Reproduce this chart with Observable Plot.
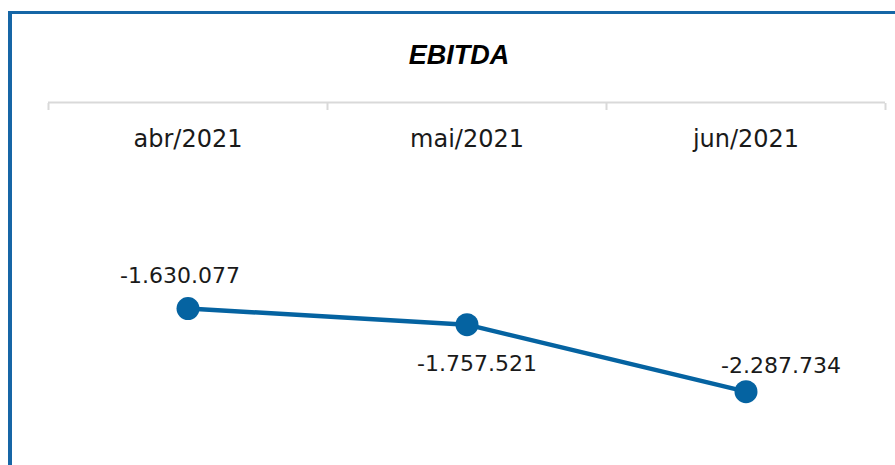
<!DOCTYPE html>
<html>
<head>
<meta charset="utf-8">
<script src="https://cdn.jsdelivr.net/npm/d3@7"></script>
<script src="https://cdn.jsdelivr.net/npm/@observablehq/plot@0.6"></script>
<style>
  html, body { margin: 0; padding: 0; background: #fff; overflow: hidden; }
  #wrap { position: relative; width: 895px; height: 465px; }
  #frame { position: absolute; left: 8px; top: 11px; width: 900px; height: 470px;
           border-left: 4px solid #1666a6; border-top: 3px solid #1666a6; box-sizing: border-box; pointer-events: none; }
  #title { position: absolute; left: 0; top: 0; width: 918px; height: 80px;
           text-align: center; font: italic bold 27px "Liberation Sans", Arial, sans-serif; line-height: 110px; color: #000; }
  #chart { position: absolute; left: 0; top: 80px; }
</style>
</head>
<body>
<div id="wrap">
  <div id="title">EBITDA</div>
  <div id="chart"></div>
  <div id="frame"></div>
</div>
<script>
const months = ["abr/2021", "mai/2021", "jun/2021"];
const ebitda = [-1630077, -1757521, -2287734];
const labels = ["-1.630.077", "-1.757.521", "-2.287.734"];

const data = months.map((m, i) => ({i, month: m, value: ebitda[i], label: labels[i]}));
const blue = "#0563a1";
const font = "'DejaVu Sans', sans-serif";

const chart = Plot.plot({
  width: 895,
  height: 385,
  marginTop: 22,
  marginBottom: 47,
  marginLeft: 48,
  marginRight: 10,
  style: {fontFamily: font, color: "#000", background: "transparent", overflow: "visible"},
  x: {type: "linear", domain: [-0.5, months.length - 0.5], axis: null},
  y: {domain: [-2500000, 0], axis: null},
  marks: [
    Plot.ruleY([0], {stroke: "#d9d9d9", strokeWidth: 2}),
    Plot.axisX({anchor: "top", ticks: d3.range(months.length + 1).map(k => k - 0.5), tickFormat: () => "",
                tickSize: 7, dy: 7, stroke: "#d9d9d9", strokeWidth: 2, label: null}),
    Plot.axisX({anchor: "top", ticks: d3.range(months.length), tickSize: 0, tickFormat: k => months[k],
                fontSize: 24, fill: "#1a1a1a", dy: 53, label: null}),
    Plot.line(data, {x: "i", y: "value", stroke: blue, strokeWidth: 4.5}),
    Plot.dot(data, {x: "i", y: "value", r: 11.5, fill: blue, stroke: null}),
    Plot.text(data.filter(d => d.i === 0), {x: "i", y: "value", text: "label", fontSize: 22, fill: "#1a1a1a", lineAnchor: "bottom", dy: -26, dx: -8}),
    Plot.text(data.filter(d => d.i === 1), {x: "i", y: "value", text: "label", fontSize: 22, fill: "#1a1a1a", lineAnchor: "bottom", dy: 46, dx: 10}),
    Plot.text(data.filter(d => d.i === 2), {x: "i", y: "value", text: "label", fontSize: 22, fill: "#1a1a1a", lineAnchor: "bottom", dy: -19, dx: 35})
  ]
});
document.getElementById("chart").appendChild(chart);
</script>
</body>
</html>
